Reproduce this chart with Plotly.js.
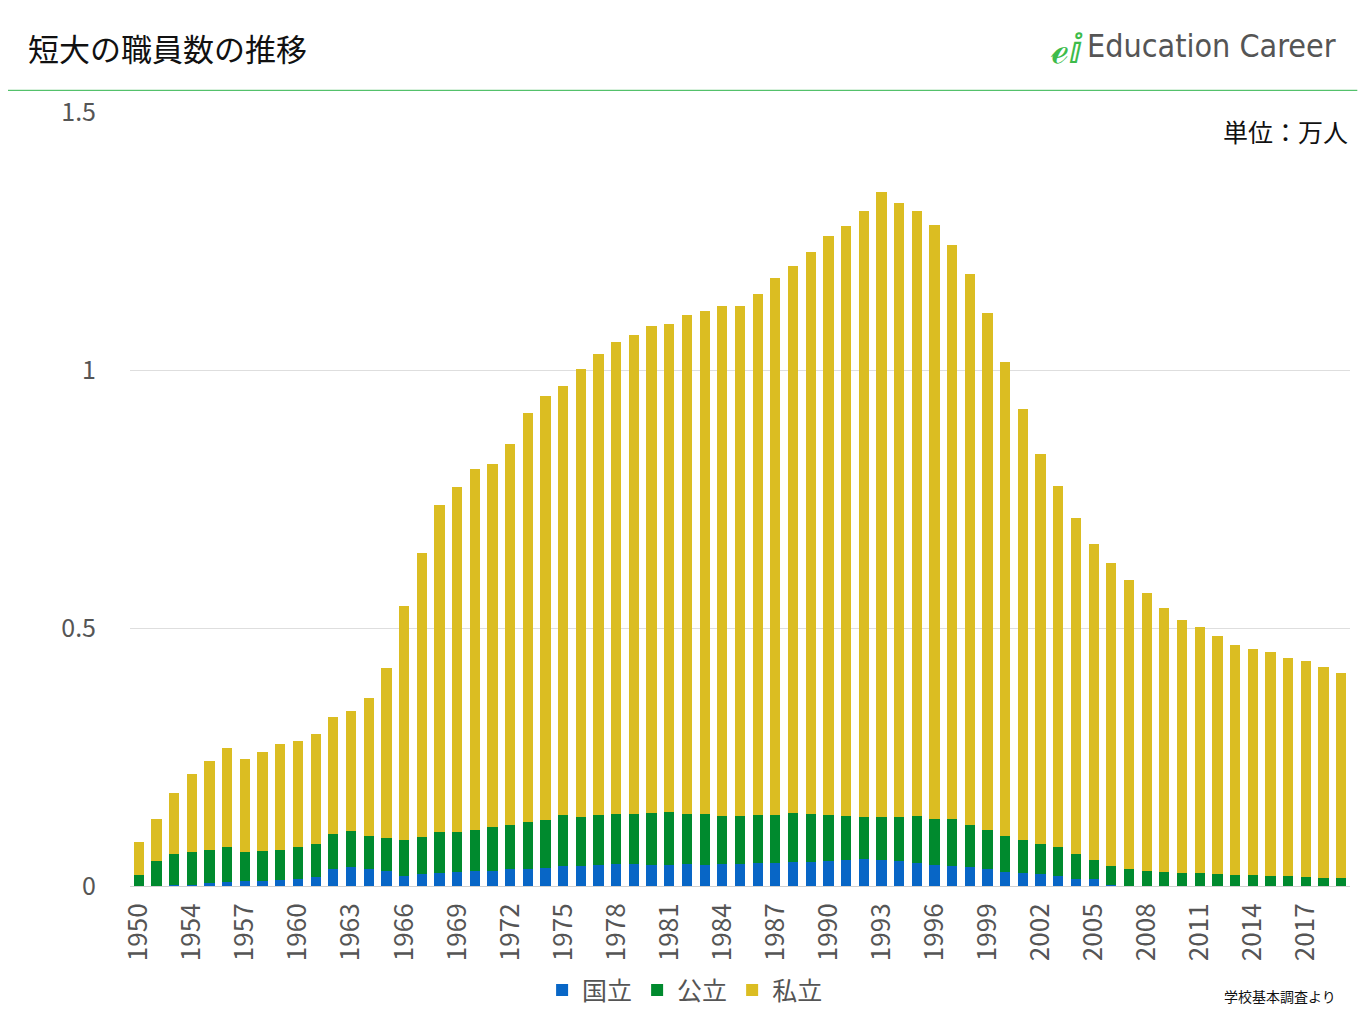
<!DOCTYPE html>
<html>
<head>
<meta charset="utf-8">
<script src="https://cdn.plot.ly/plotly-3.0.1.min.js"></script>
<style>body{margin:0;background:#fff}#chart{width:1365px;height:1024px}</style>
</head>
<body>
<div id="chart"></div>
<script>
// years (1951 not in the data)
var years = ["1950"];
for (var y = 1952; y <= 2019; y++) years.push(String(y));
var tickYears = ["1950","1954","1957","1960","1963","1966","1969","1972","1975","1978","1981","1984","1987","1990","1993","1996","1999","2002","2005","2008","2011","2014","2017"];

// 万人
var kokuritsu = [0,0,.001,.001,.005,.008,.010,.010,.012,.014,.017,.033,.037,.033,.029,.020,.024,.025,.028,.029,
  .029,.032,.033,.035,.039,.039,.041,.043,.043,.041,.041,.043,.041,.043,.043,.045,.045,.047,.047,.048,
  .051,.052,.051,.048,.045,.041,.039,.037,.032,.028,.025,.024,.020,.014,.014,.001,0,0,0,0,
  0,0,0,0,0,0,0,0,0];
var kouritsu = [.021,.048,.061,.065,.065,.067,.056,.058,.058,.061,.064,.067,.069,.064,.064,.069,.071,.080,.077,.079,
  .085,.086,.091,.093,.098,.095,.096,.096,.096,.100,.102,.096,.098,.092,.092,.092,.092,.094,.092,.089,
  .084,.082,.083,.086,.090,.089,.091,.081,.076,.069,.064,.057,.055,.048,.036,.038,.033,.029,.027,.025,
  .025,.023,.021,.021,.019,.019,.017,.015,.015];
var shiritsu = [.064,.082,.118,.151,.172,.192,.180,.192,.205,.206,.214,.228,.233,.267,.329,.454,.550,.633,.668,.700,
  .704,.739,.793,.822,.832,.868,.894,.915,.929,.944,.946,.968,.975,.989,.989,1.010,1.041,1.061,1.090,1.123,
  1.144,1.174,1.211,1.190,1.173,1.151,1.112,1.068,1.002,.919,.835,.756,.700,.651,.613,.587,.560,.539,.512,.491,
  .477,.461,.446,.438,.434,.423,.419,.409,.398];

var font = "Noto Sans CJK JP, Noto Sans, sans-serif";
function series(name, vals, color) {
  return {type: "bar", name: name, x: years, y: vals, marker: {color: color}, hoverinfo: "x+y"};
}
var data = [
  series("国立", kokuritsu, "#0866c6"),
  series("公立", kouritsu, "#008a2e"),
  series("私立", shiritsu, "#dbbd22")
];

var layout = {
  width: 1365, height: 1024,
  margin: {l: 130, r: 15, t: 112, b: 138, autoexpand: false},
  barmode: "stack", bargap: 0.42,
  font: {family: font, color: "#333"},
  xaxis: {type: "category", tickvals: tickYears, ticktext: tickYears, tickangle: -90, automargin: false,
    tickfont: {size: 26, color: "#555"}, showline: true, linecolor: "#d0d0d0", ticks: "outside", ticklen: 6, tickcolor: "rgba(0,0,0,0)"},
  yaxis: {range: [0, 1.5], tickvals: [0, 0.5, 1, 1.5], ticktext: ["0", "0.5", "1", "1.5"], automargin: false,
    tickfont: {size: 25, color: "#555"}, gridcolor: "#dedede", zeroline: false, ticklen: 28, tickcolor: "rgba(0,0,0,0)"},
  showlegend: true,
  legend: {orientation: "h", x: 0.455, xanchor: "center", y: -0.105, yanchor: "top",
    font: {size: 25, color: "#555"}, traceorder: "normal", itemwidth: 30},
  shapes: [{type: "line", xref: "paper", yref: "paper", x0: -0.10, x1: 1.006, y0: 1.028, y1: 1.028,
    line: {color: "#2db34a", width: 1}}],
  annotations: [
    {text: "短大の職員数の推移", xref: "paper", yref: "paper", x: -0.085, y: 1.083, xanchor: "left", yanchor: "middle",
      showarrow: false, font: {size: 31, color: "#111"}},
    {text: "Education Career", xref: "paper", yref: "paper", x: 0.99, y: 1.085, xanchor: "right", yanchor: "middle",
      showarrow: false, font: {size: 32, color: "#555", family: "DejaVu Sans Condensed, sans-serif"}},
    {text: "<b>ℯ</b>ⅈ", xref: "paper", yref: "paper", x: 0.782, y: 1.085, xanchor: "right", yanchor: "middle",
      showarrow: false, font: {size: 40, color: "#3dbb4a"}},
    {text: "単位：万人", xref: "paper", yref: "paper", x: 1.0, y: 0.975, xanchor: "right", yanchor: "middle",
      showarrow: false, font: {size: 25, color: "#111"}},
    {text: "学校基本調査より", xref: "paper", yref: "paper", x: 0.99, y: -0.142, xanchor: "right", yanchor: "middle",
      showarrow: false, font: {size: 14, color: "#111"}}
  ]
};

Plotly.newPlot("chart", data, layout, {displayModeBar: false});
</script>
</body>
</html>
